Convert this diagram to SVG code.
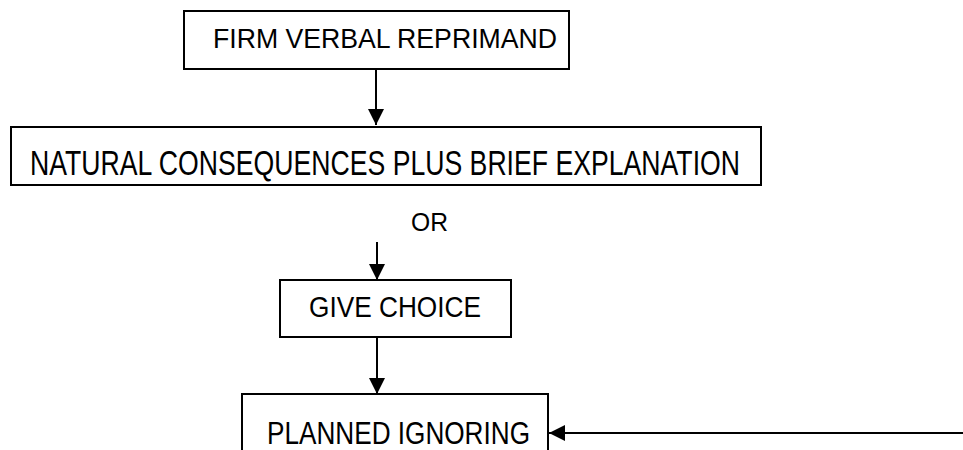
<svg xmlns="http://www.w3.org/2000/svg" width="963" height="450" viewBox="0 0 963 450">
<defs>
<marker id="ah" markerWidth="8" markerHeight="8" refX="8" refY="4" orient="auto" markerUnits="strokeWidth">
<path d="M0,0 L8,4 L0,8 Z" fill="#000"/>
</marker>
<style>
.box{fill:#fff;stroke:#000;stroke-width:2}
.t{font-family:"Liberation Sans",Arial,sans-serif;font-size:26px;fill:#000}
.c{stroke:#000;stroke-width:2;fill:none}
</style>
</defs>
<rect width="963" height="450" fill="#fff"/>
<g id="n1">
<rect class="box" x="184" y="11" width="385" height="58"/>
<text class="t" transform="translate(213,48) scale(1,1.05)" textLength="344" lengthAdjust="spacingAndGlyphs">FIRM VERBAL REPRIMAND</text>
</g>
<g id="n2">
<rect class="box" x="11" y="127" width="750" height="58"/>
<text class="t" transform="translate(30,175) scale(1,1.32)" textLength="710" lengthAdjust="spacingAndGlyphs">NATURAL CONSEQUENCES PLUS BRIEF EXPLANATION</text>
</g>
<g id="or">
<text class="t" transform="translate(411,231)" textLength="37" lengthAdjust="spacingAndGlyphs">OR</text>
</g>
<g id="n3">
<rect class="box" x="280" y="280" width="231" height="57"/>
<text class="t" transform="translate(309,317) scale(1,1.12)" textLength="172" lengthAdjust="spacingAndGlyphs">GIVE CHOICE</text>
</g>
<g id="n4">
<rect class="box" x="242" y="394" width="306" height="70"/>
<text class="t" transform="translate(267,444) scale(1,1.2)" textLength="263" lengthAdjust="spacingAndGlyphs">PLANNED IGNORING</text>
</g>
<g id="connectors">
<line class="c" x1="376" y1="69" x2="376" y2="125" marker-end="url(#ah)"/>
<line class="c" x1="377" y1="242" x2="377" y2="280" marker-end="url(#ah)"/>
<line class="c" x1="377" y1="337" x2="377" y2="394" marker-end="url(#ah)"/>
<line class="c" x1="963" y1="433" x2="549" y2="433" marker-end="url(#ah)"/>
</g>
</svg>
